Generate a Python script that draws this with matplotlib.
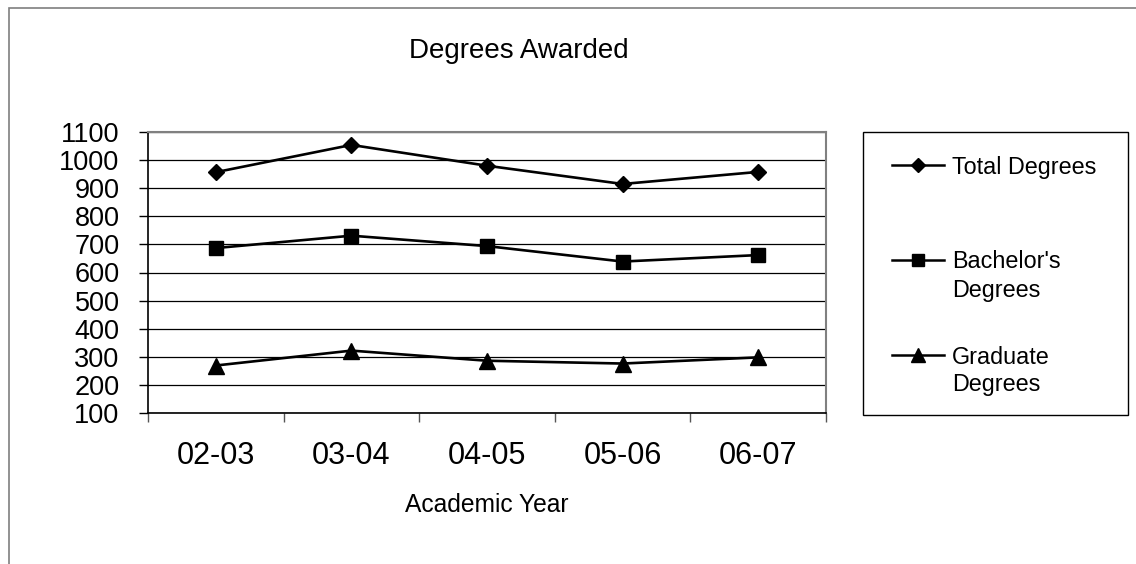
import matplotlib
matplotlib.use("Agg")
import matplotlib.pyplot as plt
from matplotlib.patches import Rectangle
from matplotlib.lines import Line2D

plt.rcParams['font.family'] = ['Liberation Sans', 'DejaVu Sans']

years = ["02-03", "03-04", "04-05", "05-06", "06-07"]
total_degrees = [957, 1054, 980, 915, 958]
bachelors_degrees = [687, 731, 694, 639, 662]
graduate_degrees = [269, 322, 286, 276, 298]
y_ticks = [100, 200, 300, 400, 500, 600, 700, 800, 900, 1000, 1100]
series_labels = ["Total Degrees", "Bachelor's\nDegrees", "Graduate\nDegrees"]

W, H = 1136, 564
fig = plt.figure(figsize=(W / 100, H / 100), dpi=100)
px_x = lambda v: v / W
px_y = lambda v: 1 - v / H
ax = fig.add_axes([px_x(148), px_y(413), (826 - 148) / W, (413 - 132) / H])

# outer chart border
fig.add_artist(Rectangle((px_x(9), -0.1), 1.2, px_y(8) + 0.1, transform=fig.transFigure,
                         fill=False, edgecolor='#7f7f7f', linewidth=1.2))

x = list(range(len(years)))
styles = [dict(marker='D', markersize=8.2), dict(marker='s', markersize=10.5), dict(marker='^', markersize=11)]
series = [total_degrees, bachelors_degrees, graduate_degrees]
lines = []
for vals, st, lab in zip(series, styles, series_labels):
    ln, = ax.plot(x, vals, color='black', lw=1.9, label=lab, **st)
    lines.append(ln)

ax.set_xlim(-0.5, len(years) - 0.5)
ax.set_ylim(100, 1100)
ax.set_yticks(y_ticks)
ax.set_yticklabels([str(v) for v in y_ticks], fontsize=19.5)
ax.yaxis.grid(True, color='black', lw=0.9)
ax.set_axisbelow(True)

ax.set_xticks([i - 0.5 for i in range(len(years) + 1)], minor=False)
ax.set_xticklabels([])
ax.set_xticks(x, minor=True)
ax.set_xticklabels(years, minor=True, fontsize=22)
ax.tick_params(axis='x', which='major', direction='out', length=6.5, width=1, color='#555555')
ax.tick_params(axis='x', which='minor', length=0, pad=20.5)
ax.tick_params(axis='y', direction='out', length=6.5, width=1, pad=14)

for s in ['top', 'right']:
    ax.spines[s].set_color('#808080')
    ax.spines[s].set_linewidth(1.5)
for s in ['left', 'bottom']:
    ax.spines[s].set_color('black')
    ax.spines[s].set_linewidth(1.2)

ax.set_xlabel('Academic Year', fontsize=17.7, va='top')
ax.xaxis.set_label_coords(0.5, (413 - 493) / (413 - 132))
fig.text(px_x(519), px_y(58), 'Degrees Awarded', fontsize=20, ha='center', va='baseline')

# legend box (drawn manually to match layout)
fig.add_artist(Rectangle((px_x(863), px_y(415)), (1128 - 863) / W, (415 - 132) / H,
                         transform=fig.transFigure, fill=False, edgecolor='black', linewidth=1.0))
entry_line_y = [165, 260, 355]
leg_marker_sizes = [7, 9, 9.5]
for ln, lab, yy, ms in zip(lines, series_labels, entry_line_y, leg_marker_sizes):
    fig.add_artist(Line2D([px_x(892), px_x(944)], [px_y(yy), px_y(yy)], transform=fig.transFigure,
                          color='black', lw=1.8))
    fig.add_artist(Line2D([px_x(918)], [px_y(yy)], transform=fig.transFigure, color='black',
                          marker=ln.get_marker(), markersize=ms, linestyle='none'))
    for k, part in enumerate(lab.split('\n')):
        fig.text(px_x(952), px_y(yy + 8.5 + 28 * k), part, fontsize=16.8, ha='left', va='baseline')

fig.savefig('out.png', dpi=100)
